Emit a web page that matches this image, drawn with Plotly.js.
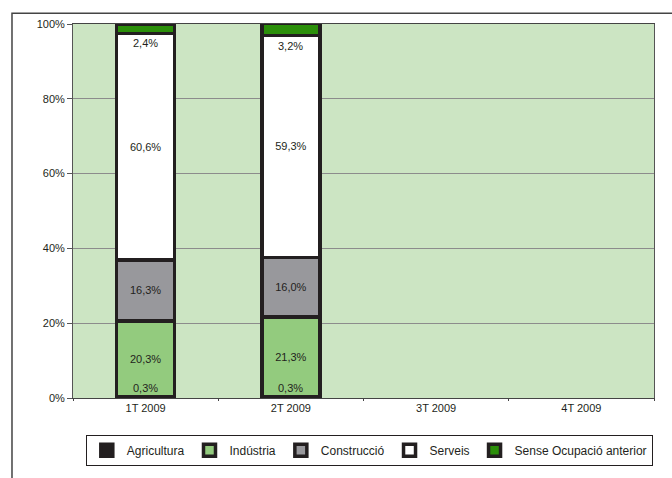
<!DOCTYPE html>
<html>
<head>
<meta charset="utf-8">
<script src="https://cdn.plot.ly/plotly-3.0.1.min.js"></script>
<style>
  html, body { margin: 0; padding: 0; background: #fff; }
  #chart { width: 672px; height: 478px; }
</style>
</head>
<body>
<div id="chart"></div>
<script>
// quarters
let quarters = ['1T 2009', '2T 2009', '3T 2009', '4T 2009'];

// percentages per sector (only 1T and 2T have data)
let agricultura = [0.3, 0.3, null, null];
let industria = [20.3, 21.3, null, null];
let construccio = [16.3, 16.0, null, null];
let serveis = [60.6, 59.3, null, null];
let senseOcupacio = [2.4, 3.2, null, null];

let seriesNames = ['Agricultura', 'Indústria', 'Construcció', 'Serveis', 'Sense Ocupació anterior'];
let seriesValues = [agricultura, industria, construccio, serveis, senseOcupacio];
let seriesColors = ['#231f20', '#93cb7e', '#98989c', '#ffffff', '#2b8f0a'];

const FONT = '"Liberation Sans", Arial, sans-serif';

function fmt(v){
    return v == null ? '' : v.toFixed(1).replace('.', ',') + '%';
}

let traces = [];
for (let i=0; i<seriesNames.length; i++){
    let small = (i == 0 || i == 4);
    traces.push({
        x: quarters,
        y: seriesValues[i],
        name: seriesNames[i],
        type: 'bar',
        width: 0.4,
        marker: {
            color: seriesColors[i],
            line: { color: '#231f20', width: 3.5 }
        },
        text: small ? null : seriesValues[i].map(fmt),
        textposition: 'inside',
        insidetextanchor: 'middle',
        textfont: { family: FONT, size: 11, color: '#231f20' },
        hoverinfo: 'skip'
    });
}

// labels of the thin segments sit just beside them
let annotations = [];
for (let j=0; j<quarters.length; j++){
    if (agricultura[j] == null) continue;
    annotations.push({
        x: quarters[j], y: agricultura[j], xref: 'x', yref: 'y',
        text: fmt(agricultura[j]), showarrow: false, yanchor: 'bottom', yshift: 1,
        font: { family: FONT, size: 11, color: '#231f20' }
    });
    let base = agricultura[j] + industria[j] + construccio[j] + serveis[j];
    annotations.push({
        x: quarters[j], y: base, xref: 'x', yref: 'y',
        text: fmt(senseOcupacio[j]), showarrow: false, yanchor: 'top', yshift: -2,
        font: { family: FONT, size: 11, color: '#231f20' }
    });
}

let layout = {
    width: 672,
    height: 478,
    margin: { l: 73, r: 18, t: 24, b: 72 },
    barmode: 'stack',
    showlegend: true,
    plot_bgcolor: '#cce5c3',
    paper_bgcolor: '#ffffff',
    font: { family: FONT, size: 11, color: '#231f20' },
    xaxis: {
        type: 'category',
        range: [-0.5, 3.5],
        showline: true,
        linecolor: '#444',
        linewidth: 1,
        mirror: true,
        ticks: 'outside',
        tickson: 'boundaries',
        ticklen: 2,
        tickcolor: '#444',
        tickfont: { family: FONT, size: 11 },
        showgrid: false
    },
    yaxis: {
        range: [0, 100],
        dtick: 20,
        ticksuffix: '%',
        showline: true,
        linecolor: '#555',
        linewidth: 1,
        mirror: true,
        ticks: 'outside',
        ticklen: 5,
        tickcolor: '#555',
        tickfont: { family: FONT, size: 11 },
        gridcolor: '#8c8c8c',
        gridwidth: 1,
        zeroline: false
    },
    legend: {
        orientation: 'h',
        traceorder: 'normal',
        x: 0.51,
        xanchor: 'center',
        y: -0.098,
        yanchor: 'top',
        bordercolor: '#231f20',
        borderwidth: 1,
        font: { family: FONT, size: 12, color: '#231f20' },
        itemwidth: 30,
        tracegroupgap: 0
    },
    annotations: annotations,
    shapes: [{
        type: 'rect', xref: 'paper', yref: 'paper',
        x0: -0.105, x1: 1.2, y0: -0.3, y1: 1.029,
        line: { color: '#444', width: 1.5 },
        layer: 'below'
    }]
};

const config = {
    displayModeBar: false,
    staticPlot: true
};

Plotly.newPlot('chart', traces, layout, config);
</script>
</body>
</html>
